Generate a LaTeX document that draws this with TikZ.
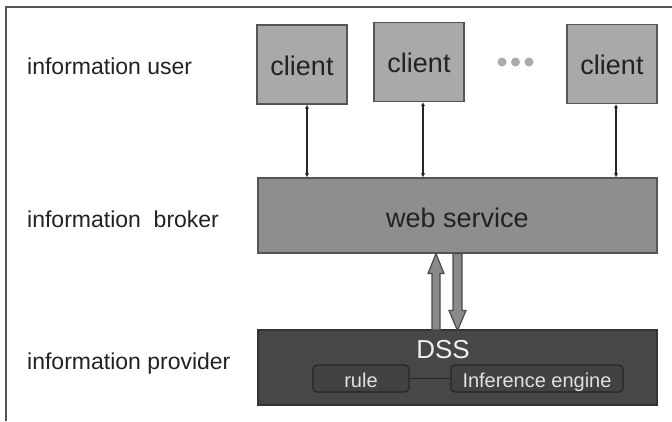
\documentclass[tikz,border=0pt]{standalone}
\usepackage{fontspec}
\setmainfont{Liberation Sans}
\usetikzlibrary{arrows.meta,calc}
\definecolor{clientfill}{HTML}{A9A9A9}
\definecolor{boxline}{HTML}{555555}
\definecolor{webfill}{HTML}{8E8E8E}
\definecolor{dssfill}{HTML}{474747}
\definecolor{dssline}{HTML}{333333}
\definecolor{innerfill}{HTML}{424242}
\definecolor{innerline}{HTML}{262626}
\definecolor{fatfill}{HTML}{8A8A8A}
\definecolor{fatline}{HTML}{4A4A4A}
\definecolor{dotgray}{HTML}{ABABAB}
\definecolor{txt}{HTML}{222222}
\tikzset{
  clientbox/.style={draw=boxline, line width=1.4pt, fill=clientfill, minimum width=90pt, minimum height=79pt, inner sep=0pt, text=txt, font=\fontsize{27}{30}\selectfont, text height=21pt, text depth=0pt},
  webbox/.style={draw=boxline, line width=1.4pt, fill=webfill, minimum width=399pt, minimum height=75pt, inner sep=0pt, text=txt, font=\fontsize{27}{30}\selectfont, text height=23pt, text depth=0pt},
  dssbox/.style={draw=dssline, line width=1.4pt, fill=dssfill, minimum width=399pt, minimum height=75pt, inner sep=0pt},
  innerbox/.style={draw=innerline, line width=1.2pt, fill=innerfill, rounded corners=4pt, minimum height=27pt, inner sep=0pt, text=white!88!black, font=\fontsize{20}{24}\selectfont, text height=17pt, text depth=0pt},
  layerlabel/.style={anchor=base west, inner sep=0pt, text=txt, font=\fontsize{23}{27}\selectfont},
  thinarrow/.style={{Latex[length=4pt,width=4.5pt]}-{Latex[length=4pt,width=4.5pt]}, line width=1.1pt, draw=black!85},
  fatarrow/.style={fill=fatfill, draw=fatline, line width=1.2pt, line join=miter},
  dot/.style={circle, fill=dotgray, minimum size=9pt, inner sep=0pt}
}
\begin{document}
\begin{tikzpicture}[x=1pt,y=-1pt]
\useasboundingbox (0,0) rectangle (672,421);
% frame
\draw[boxline, line width=1.5pt] (672,7) -- (6,7) -- (6,421);
% layer labels
\node[layerlabel] (lu) at (27,74) {information user};
\node[layerlabel] (lb) at (27,227) {information\ \ broker};
\node[layerlabel] (lp) at (27,369) {information provider};
% clients
\node[clientbox] (c1) at (302,64.5) {client};
\node[clientbox] (c2) at (419,62) {client};
\node[clientbox] (c3) at (612,64) {client};
\node[dot] (d1) at (502,62) {};
\node[dot] (d2) at (515.5,62) {};
\node[dot] (d3) at (529,62) {};
% web service
\node[webbox] (ws) at (457.5,215.5) {web service};
% client arrows
\draw[thinarrow] ([xshift=5pt]c1.south) -- ([xshift=5pt]c1.south |- ws.north);
\draw[thinarrow] ([xshift=4pt]c2.south) -- ([xshift=4pt]c2.south |- ws.north);
\draw[thinarrow] ([xshift=4pt]c3.south) -- ([xshift=4pt]c3.south |- ws.north);
% DSS
\node[dssbox] (dss) at (457.5,367.5) {};
\node[anchor=base, inner sep=0pt, text=white!94!black, font=\fontsize{26}{30}\selectfont] (dsst) at (443,358) {DSS};
\node[innerbox, minimum width=96pt] (rule) at (361,378.5) {rule};
\node[innerbox, minimum width=172pt] (inf) at (537,378.5) {Inference engine};
\draw[innerline, line width=1.2pt] (rule.east) -- (inf.west);
% fat arrows
\coordinate (upb) at (436,330);
\coordinate (upt) at (436,253.5);
\filldraw[fatarrow] ($(upb)+(-4,0)$) -- ($(upt)+(-4,20)$) -- ($(upt)+(-8,20)$) -- (upt) -- ($(upt)+(8,20)$) -- ($(upt)+(4,20)$) -- ($(upb)+(4,0)$) -- cycle;
\coordinate (dnb) at (457.5,253.5);
\coordinate (dnt) at (457.5,330.5);
\filldraw[fatarrow] ($(dnb)+(-4.5,0)$) -- ($(dnt)+(-4.5,-20)$) -- ($(dnt)+(-8.5,-20)$) -- (dnt) -- ($(dnt)+(8.5,-20)$) -- ($(dnt)+(4.5,-20)$) -- ($(dnb)+(4.5,0)$) -- cycle;
\end{tikzpicture}
\end{document}
